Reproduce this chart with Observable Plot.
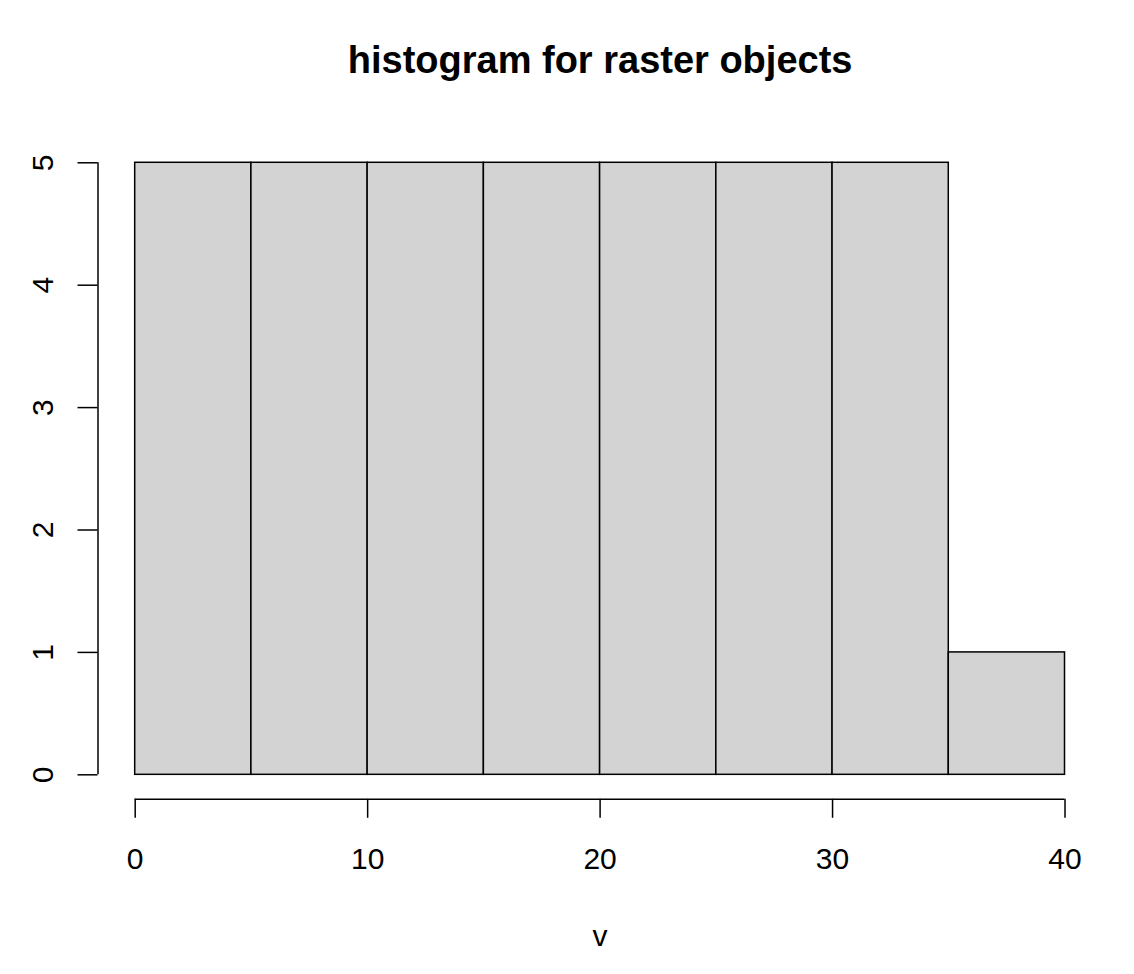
<!DOCTYPE html>
<html><head><meta charset="utf-8">
<script src="https://cdn.jsdelivr.net/npm/d3@7"></script>
<script src="https://cdn.jsdelivr.net/npm/@observablehq/plot@0.6"></script>
<style>html,body{margin:0;padding:0;background:#fff;} svg{display:block}</style>
</head><body><div id="chart"></div>
<script>
const title = "histogram for raster objects";
const xLabel = "v";
const binStarts = [0, 5, 10, 15, 20, 25, 30, 35];
const binEnds = [5, 10, 15, 20, 25, 30, 35, 40];
const counts = [5, 5, 5, 5, 5, 5, 5, 1];
const xTicks = [0, 10, 20, 30, 40];
const yTicks = [0, 1, 2, 3, 4, 5];

const bins = binStarts.map((s, i) => ({x1: s, x2: binEnds[i], count: counts[i]}));
const pad = (r) => { const d = (r[1] - r[0]) * 0.04; return [r[0] - d, r[1] + d]; };
const xDom = pad([d3.min(binStarts), d3.max(binEnds)]);
const yDom = pad([0, d3.max(counts)]);
const font = "'Liberation Sans', Arial, Helvetica, sans-serif";

const chart = Plot.plot({
  width: 1134, height: 974,
  marginLeft: 97.5, marginRight: 32.3, marginTop: 137.8, marginBottom: 175.2,
  style: {fontFamily: font, background: "#fff", color: "#000"},
  x: {domain: xDom},
  y: {domain: yDom},
  marks: [
    Plot.rectY(bins, {x1: "x1", x2: "x2", y: "count", fill: "#D3D3D3", stroke: "#000", strokeWidth: 1.5}),
    Plot.axisX({ticks: xTicks, tickSize: 19, tickPadding: 29.4, fontSize: 30, strokeWidth: 1.5, label: null, tickFormat: d => String(d)}),
    Plot.ruleY([yDom[0]], {x1: d3.min(xTicks), x2: d3.max(xTicks), stroke: "#000", strokeWidth: 1.5}),
    Plot.axisY({ticks: yTicks, tickSize: 20, tickPadding: 25.5, tickRotate: -90, fontSize: 30, strokeWidth: 1.5, label: null, tickFormat: d => String(d)}),
    Plot.ruleX([xDom[0]], {y1: d3.min(yTicks), y2: d3.max(yTicks), stroke: "#000", strokeWidth: 1.5}),
    Plot.text([title], {text: d => d, frameAnchor: "top", dy: -65.8, lineAnchor: "bottom", fontSize: 38, fontWeight: "bold", fill: "#000"}),
    Plot.text([xLabel], {text: d => d, frameAnchor: "bottom", dy: 146.2, lineAnchor: "bottom", fontSize: 30, fill: "#000"})
  ]
});
document.getElementById("chart").appendChild(chart);
</script>
</body></html>
